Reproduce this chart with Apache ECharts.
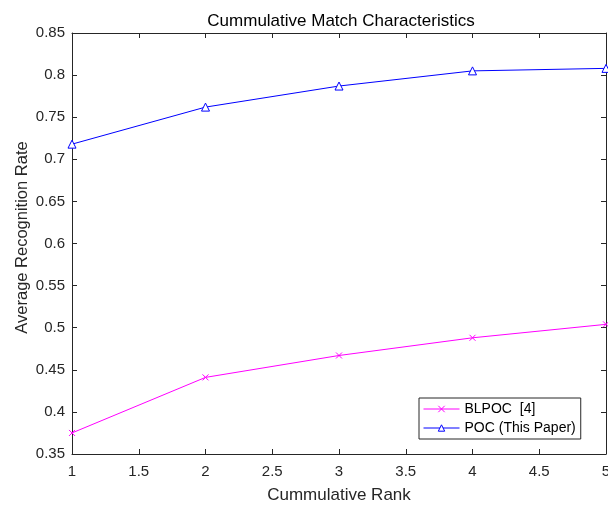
<!DOCTYPE html>
<html>
<head>
<meta charset="utf-8">
<script src="https://cdn.jsdelivr.net/npm/echarts@6/dist/echarts.min.js"></script>
<style>
  html, body { margin: 0; padding: 0; background: #fff; }
  #chart { width: 608px; height: 506px; }
</style>
</head>
<body>
<div id="chart"></div>
<script>
// ranks on the x axis
var ranks = [1, 2, 3, 4, 5];
// recognition rates
var blpoc = [0.375, 0.441, 0.467, 0.488, 0.504];
var poc = [0.718, 0.762, 0.787, 0.805, 0.808];

var FONT = 'Liberation Sans, Arial, sans-serif';
var AXIS_COL = '#262626';

function pairs(xs, ys) {
    return xs.map(function (x, i) { return [x, ys[i]]; });
}
function trim(v) {
    return String(+v.toFixed(2));
}

var chart = echarts.init(document.getElementById('chart'));

var axisLine = { show: true, lineStyle: { color: AXIS_COL, width: 1 } };
var tick = { show: true, inside: true, length: 5, lineStyle: { color: AXIS_COL } };

chart.setOption({
    animation: false,
    backgroundColor: '#fff',
    title: {
        text: 'Cummulative Match Characteristics',
        left: 336, top: 8, textAlign: 'center',
        textStyle: { fontFamily: FONT, fontSize: 17, fontWeight: 'normal', color: '#000' }
    },
    grid: { left: 72, right: 2, top: 33, bottom: 52, outerBoundsMode: 'none' },
    legend: {
        orient: 'vertical',
        left: 419, top: 398,
        itemWidth: 36, itemHeight: 8, itemGap: 5,
        padding: [4, 5, 4, 4],
        borderColor: AXIS_COL, borderWidth: 1,
        backgroundColor: '#fff',
        lineStyle: { width: 1 },
        itemStyle: { borderWidth: 1 },
        textStyle: { fontFamily: FONT, fontSize: 14, color: '#000' },
        data: ['BLPOC  [4]', 'POC (This Paper)']
    },
    xAxis: [{
        type: 'value', min: 1, max: 5, interval: 0.5,
        name: 'Cummulative Rank', nameLocation: 'middle', nameGap: 33,
        nameMoveOverlap: false,
        nameTextStyle: { fontFamily: FONT, fontSize: 17, color: AXIS_COL },
        axisLine: axisLine, axisTick: tick, splitLine: { show: false },
        axisLabel: { fontFamily: FONT, fontSize: 15, color: AXIS_COL, margin: 10, formatter: trim }
    }, {
        type: 'value', min: 1, max: 5, interval: 0.5, position: 'top',
        axisLine: axisLine, axisTick: tick, splitLine: { show: false },
        axisLabel: { show: false }
    }],
    yAxis: [{
        type: 'value', min: 0.35, max: 0.85, interval: 0.05,
        name: 'Average Recognition Rate', nameLocation: 'middle', nameGap: 41,
        nameMoveOverlap: false,
        nameTextStyle: { fontFamily: FONT, fontSize: 16.5, color: AXIS_COL, padding: [0, 0, 0, 12] },
        axisLine: axisLine, axisTick: tick, splitLine: { show: false },
        axisLabel: { fontFamily: FONT, fontSize: 15, color: AXIS_COL, margin: 7, formatter: trim }
    }, {
        type: 'value', min: 0.35, max: 0.85, interval: 0.05, position: 'right',
        axisLine: axisLine, axisTick: tick, splitLine: { show: false },
        axisLabel: { show: false }
    }],
    series: [{
        name: 'BLPOC  [4]',
        type: 'line',
        data: pairs(ranks, blpoc),
        symbol: 'path://M0,0L10,10M10,0L0,10',
        symbolSize: 6,
        lineStyle: { color: '#ff00ff', width: 1 },
        itemStyle: { color: 'none', borderColor: '#ff00ff', borderWidth: 1 }
    }, {
        name: 'POC (This Paper)',
        type: 'line',
        data: pairs(ranks, poc),
        symbol: 'triangle',
        symbolSize: 8,
        lineStyle: { color: '#0000ff', width: 1 },
        itemStyle: { color: '#fff', borderColor: '#0000ff', borderWidth: 1 }
    }]
});
</script>
</body>
</html>
